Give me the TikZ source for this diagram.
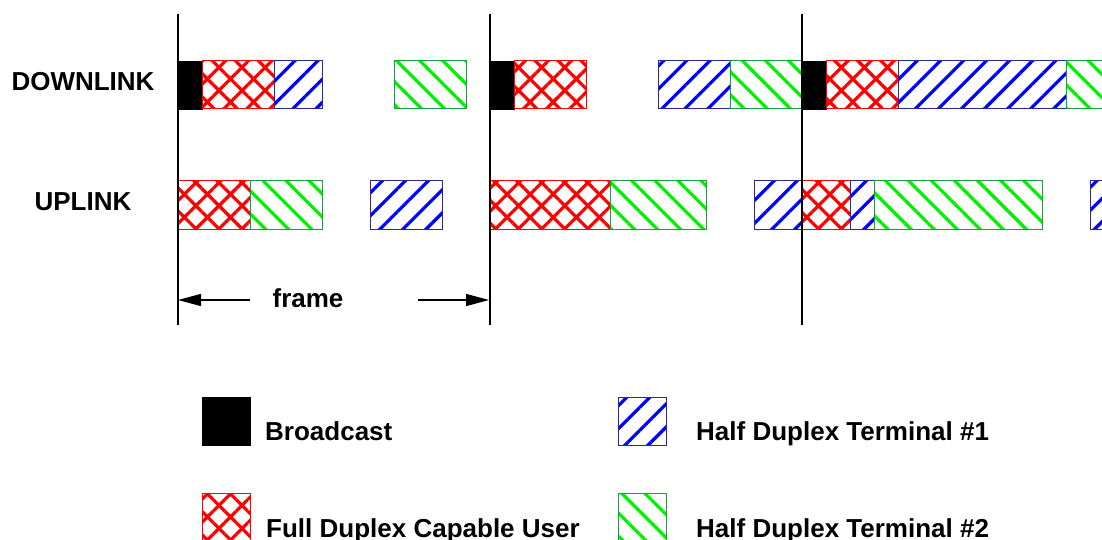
\documentclass[tikz,border=0pt]{standalone}
\usepackage{fontspec}
\setmainfont{Liberation Sans}
\usetikzlibrary{patterns.meta,arrows.meta}
\definecolor{navyout}{RGB}{40,40,150}
\definecolor{greenout}{RGB}{20,160,60}
\definecolor{hgreen}{RGB}{0,240,0}
\begin{document}
\begin{tikzpicture}[x=1pt,y=-1pt,
  bc/.style={fill=black,draw=black,line width=0.6pt},
  fd/.style={draw=red,line width=1pt,pattern={Hatch[angle=45,distance=16.3pt,line width=3.2pt]},pattern color=red},
  hone/.style={draw=navyout,line width=1pt,pattern={Lines[angle=45,distance=16.3pt,line width=3.2pt]},pattern color=blue},
  htwo/.style={draw=greenout,line width=1pt,pattern={Lines[angle=-45,distance=16.3pt,line width=3.2pt]},pattern color=hgreen},
  fline/.style={line width=2.4pt,black},
  arr/.style={line width=1.3pt,-{Triangle[length=23pt,width=12pt]}},
  txt/.style={inner sep=0pt,font=\fontsize{26}{30}\selectfont\bfseries}]
\clip (0,0) rectangle (1102,540);
\fill[white] (0,0) rectangle (1102,540);
% downlink row
\path[bc] (178,61) rectangle (202,109);
\path[fd] (202,61) rectangle (274,109);
\path[hone] (274,61) rectangle (322,109);
\path[htwo] (394,61) rectangle (466,109);
\path[bc] (490,61) rectangle (514,109);
\path[fd] (514,61) rectangle (586,109);
\path[hone] (658,61) rectangle (730,109);
\path[htwo] (730,61) rectangle (802,109);
\path[bc] (802,61) rectangle (826,109);
\path[fd] (826,61) rectangle (898,109);
\path[hone] (898,61) rectangle (1066,109);
\path[htwo] (1066,61) rectangle (1120,109);
% uplink row
\path[fd] (178,181) rectangle (250,229);
\path[htwo] (250,181) rectangle (322,229);
\path[hone] (370,181) rectangle (442,229);
\path[fd] (490,181) rectangle (610,229);
\path[htwo] (610,181) rectangle (706,229);
\path[hone] (754,181) rectangle (802,229);
\path[fd] (802,181) rectangle (850,229);
\path[hone] (850,181) rectangle (874,229);
\path[htwo] (874,181) rectangle (1042,229);
\path[hone] (1090,181) rectangle (1120,229);
% frame boundaries
\coordinate (t1) at (178,14); \coordinate (b1) at (178,325);
\coordinate (t2) at (490,14); \coordinate (b2) at (490,325);
\coordinate (t3) at (802,14); \coordinate (b3) at (802,325);
\draw[fline] (t1) -- (b1);
\draw[fline] (t2) -- (b2);
\draw[fline] (t3) -- (b3);
% labels
\node[txt,anchor=base] (dl) at (83,91) {DOWNLINK};
\node[txt,anchor=base] (ul) at (83,211) {UPLINK};
% frame arrows
\node[txt,anchor=base] (fr) at (308,307) {frame};
\coordinate (al0) at (250,300); \coordinate (al1) at (178,300);
\coordinate (ar0) at (418,300); \coordinate (ar1) at (489,300);
\draw[arr] (al0) -- (al1);
\draw[arr] (ar0) -- (ar1);
% legend
\path[bc] (202,397) rectangle (250,445);
\path[fd] (202,493) rectangle (250,541);
\path[hone] (618,397) rectangle (666,445);
\path[htwo] (618,493) rectangle (666,541);
\node[txt,anchor=base west] (lb) at (265,440) {Broadcast};
\node[txt,anchor=base west] (lf) at (266,537) {Full Duplex Capable User};
\node[txt,anchor=base west] (lh1) at (696,440) {Half Duplex Terminal \#1};
\node[txt,anchor=base west] (lh2) at (696,537) {Half Duplex Terminal \#2};
\end{tikzpicture}
\end{document}
